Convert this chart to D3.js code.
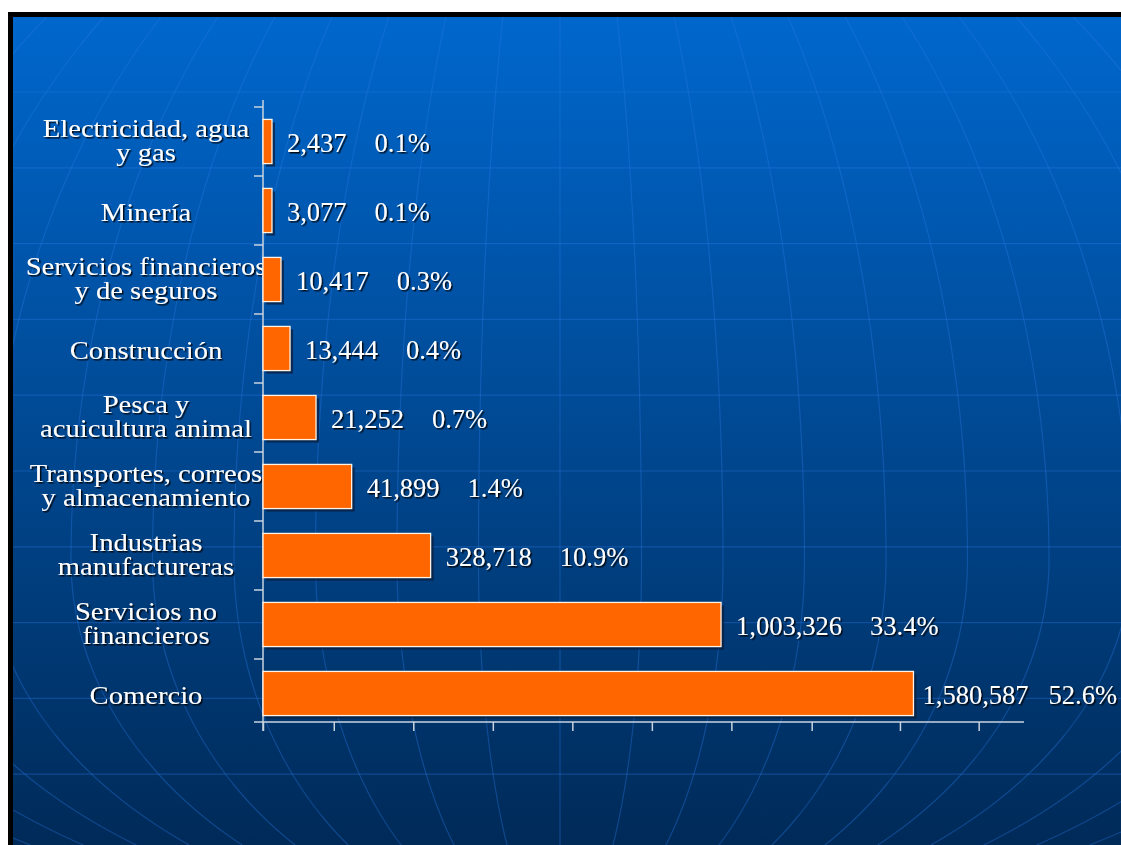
<!DOCTYPE html>
<html><head><meta charset="utf-8">
<script src="https://cdn.jsdelivr.net/npm/d3@7"></script>
<style>html,body{margin:0;padding:0;background:#fff;} svg{display:block;}</style>
</head><body>
<svg id="chart" width="1121" height="845"></svg>
<script>
// ---- data ----
const categories = [
  "Electricidad, agua\ny gas",
  "Minería",
  "Servicios financieros\ny de seguros",
  "Construcción",
  "Pesca y\nacuicultura animal",
  "Transportes, correos\ny almacenamiento",
  "Industrias\nmanufactureras",
  "Servicios no\nfinancieros",
  "Comercio"
];
const values = [2437, 3077, 10417, 13444, 21252, 41899, 328718, 1003326, 1580587];
const shares = [0.1, 0.1, 0.3, 0.4, 0.7, 1.4, 10.9, 33.4, 52.6];
// bar lengths as drawn, measured against the (unlabelled) axis, in tick intervals
const barLengths = [0.113, 0.113, 0.226, 0.34, 0.667, 1.115, 2.108, 5.76, 8.18];
const axisTicks = [0, 0.89, 1.89, 2.89, 3.89, 4.89, 5.89, 6.9, 8.01, 9.0];
const axisMax = 9.57;

const rows = categories.map((c, i) => ({cat: c, value: values[i], share: shares[i], len: barLengths[i]}));

const W = 1121, H = 845;
const svg = d3.select("#chart");
const defs = svg.append("defs");
const grad = defs.append("linearGradient").attr("id", "bg")
  .attr("x1", 0).attr("y1", 0).attr("x2", 0).attr("y2", 1);
grad.append("stop").attr("offset", "0%").attr("stop-color", "#0067cd");
grad.append("stop").attr("offset", "100%").attr("stop-color", "#002a58");
const flt = defs.append("filter").attr("id", "ts")
  .attr("x", "-10%").attr("y", "-30%").attr("width", "130%").attr("height", "170%");
flt.append("feDropShadow").attr("dx", 1.5).attr("dy", 1.5).attr("stdDeviation", 0.6)
  .attr("flood-color", "#000").attr("flood-opacity", 0.85);
defs.append("clipPath").attr("id", "slide").append("rect")
  .attr("x", 13).attr("y", 17).attr("width", W - 13).attr("height", H - 17);

// slide frame + background
svg.append("rect").attr("x", 8).attr("y", 12).attr("width", W - 8).attr("height", H - 12).attr("fill", "#000");
svg.append("rect").attr("x", 13).attr("y", 17).attr("width", W - 13).attr("height", H - 17).attr("fill", "url(#bg)");

// decorative globe grid
const deco = svg.append("g").attr("clip-path", "url(#slide)")
  .attr("fill", "none").attr("stroke", "#2a7ae8").attr("stroke-opacity", 0.35).attr("stroke-width", 1.2);
const cx = 560, y0 = 560, s0 = 81.5, Rt = 760, Rb = 375;
const g = y => {
  const r = y < y0 ? (y0 - y) / Rt : (y - y0) / Rb;
  return Math.sqrt(Math.max(0, 1 - r * r));
};
const ys = d3.range(17, H + 4, 4);
const line = d3.line();
d3.range(-11, 12).forEach(k => {
  deco.append("path").attr("d", line(ys.map(y => [cx + k * s0 * g(y), y])));
});
d3.range(10).forEach(j => {
  const yy = 92 + 75.8 * j;
  deco.append("line").attr("x1", 13).attr("x2", W).attr("y1", yy).attr("y2", yy);
});

// scales
const x = d3.scaleLinear().domain([0, axisMax]).range([263, 1024]);
const y = d3.scaleBand().domain(categories).range([107, 728]).paddingInner(0.36).paddingOuter(0.18);
const axisY = 722;
const axisColor = "#c9d3df";

// category labels (drawn under bars)
const labels = svg.append("g")
  .attr("font-family", "'Liberation Serif', 'Times New Roman', serif")
  .attr("font-size", 26).attr("fill", "#fff").attr("filter", "url(#ts)");
rows.forEach(r => {
  const lines = r.cat.split("\n");
  const n = lines.length;
  const yc = y(r.cat) + y.bandwidth() / 2;
  const t = labels.append("g").attr("transform", `translate(146,${yc}) scale(1.1,1)`)
    .append("text").attr("text-anchor", "middle");
  lines.forEach((ln, i) => {
    t.append("tspan").attr("x", 0).attr("y", (n === 1 ? 10 : 7) + (i - (n - 1) / 2) * 24).text(ln);
  });
});

// axes
const ax = svg.append("g").attr("stroke", axisColor).attr("stroke-width", 1.5);
ax.append("line").attr("x1", x(0)).attr("x2", x(0)).attr("y1", 100).attr("y2", axisY + 9);
categories.forEach(c => {
  const ty = y(c) - y.step() * y.paddingInner() / 2;
  ax.append("line").attr("x1", x(0) - 9).attr("x2", x(0)).attr("y1", ty).attr("y2", ty);
});
ax.append("line").attr("x1", x(0) - 9).attr("x2", x(axisMax)).attr("y1", axisY).attr("y2", axisY);
const xAxis = svg.append("g").attr("transform", `translate(0,${axisY})`)
  .call(d3.axisBottom(x).tickValues(axisTicks).tickSize(9).tickSizeOuter(0).tickFormat(""));
xAxis.select(".domain").remove();
xAxis.selectAll(".tick line").attr("stroke", axisColor).attr("stroke-width", 1.5);

// bars
const bars = svg.append("g");
bars.selectAll("rect.shadow").data(rows).join("rect").attr("class", "shadow")
  .attr("x", x(0) + 3).attr("y", d => y(d.cat) + 3)
  .attr("width", d => x(d.len) - x(0)).attr("height", y.bandwidth())
  .attr("fill", "#0b1d3d").attr("opacity", 0.75);
bars.selectAll("rect.bar").data(rows).join("rect").attr("class", "bar")
  .attr("x", x(0)).attr("y", d => y(d.cat))
  .attr("width", d => x(d.len) - x(0)).attr("height", y.bandwidth())
  .attr("fill", "#ff6600").attr("stroke", "#fff3e6").attr("stroke-width", 1.3);

// value labels
const fmt = d3.format(",");
const pct = d3.format(".1f");
const vl = svg.append("g")
  .attr("font-family", "'Liberation Serif', 'Times New Roman', serif")
  .attr("font-size", 26.5).attr("fill", "#fff").attr("filter", "url(#ts)");
const gap = 15, sep = 28, minSep = 20;
rows.forEach(r => {
  const t = vl.append("text")
    .attr("x", x(r.len) + gap)
    .attr("y", y(r.cat) + y.bandwidth() / 2 + 10);
  t.append("tspan").text(fmt(r.value));
  const p = t.append("tspan").attr("dx", sep).text(pct(r.share) + "%");
  // keep the label inside the slide: first tighten the separation, then shift
  let bb = t.node().getBBox();
  let over = bb.x + bb.width - (W - 4);
  if (over > 0) {
    const cut = Math.min(over, sep - minSep);
    p.attr("dx", sep - cut);
    over -= cut;
    if (over > 0) t.attr("x", x(r.len) + gap - over);
  }
});
</script>
</body></html>
